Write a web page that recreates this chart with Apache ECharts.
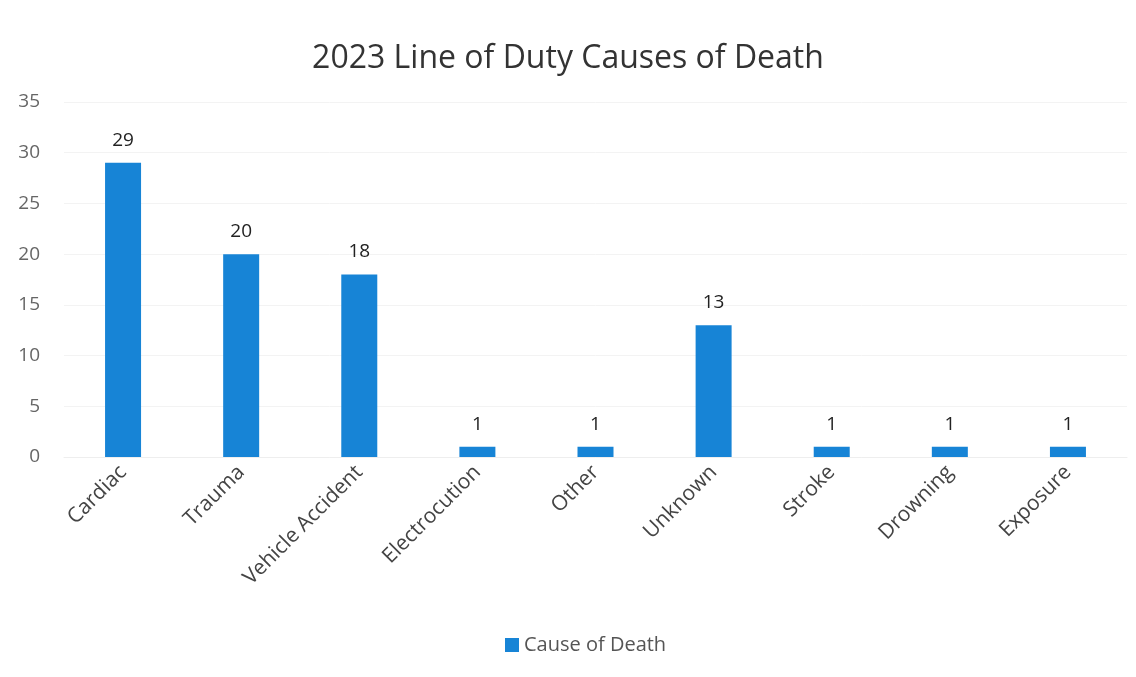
<!DOCTYPE html>
<html>
<head>
<meta charset="utf-8">
<script src="https://cdn.jsdelivr.net/npm/echarts@6/dist/echarts.min.js"></script>
<style>
  html, body { margin: 0; padding: 0; background: #fff; }
  #chart { width: 1136px; height: 677px; }
</style>
</head>
<body>
<div id="chart"></div>
<script>
const categories = ['Cardiac', 'Trauma', 'Vehicle Accident', 'Electrocution', 'Other', 'Unknown', 'Stroke', 'Drowning', 'Exposure']
const deaths = [29, 20, 18, 1, 1, 13, 1, 1, 1]

const font = '"Open Sans", "Noto Sans", sans-serif'
const chart = echarts.init(document.getElementById('chart'))
chart.setOption({
  animation: false,
  textStyle: { fontFamily: font },
  title: {
    text: '2023 Line of Duty Causes of Death',
    left: 'center',
    top: 38,
    textStyle: { fontFamily: font, fontSize: 32, fontWeight: 'normal', color: '#333' }
  },
  legend: {
    bottom: 17,
    left: 500,
    itemWidth: 14,
    itemHeight: 14,
    itemGap: 6,
    icon: 'rect',
    textStyle: { fontFamily: font, fontSize: 20, color: '#555' },
    data: ['Cause of Death']
  },
  grid: { left: 64, right: 9, top: 102, bottom: 220, containLabel: false },
  xAxis: {
    type: 'category',
    data: categories,
    axisLine: { show: true, lineStyle: { color: '#eee' } },
    axisTick: { show: false },
    axisLabel: { rotate: 45, fontSize: 21, color: '#444', margin: 12, fontFamily: font }
  },
  yAxis: {
    type: 'value',
    min: 0,
    max: 35,
    interval: 5,
    axisLine: { show: false },
    axisTick: { show: false },
    axisLabel: { fontSize: 19, color: '#666', margin: 24, fontFamily: font },
    splitLine: { lineStyle: { color: '#f3f3f3' } }
  },
  series: [{
    name: 'Cause of Death',
    type: 'bar',
    data: deaths,
    barWidth: 36,
    itemStyle: { color: '#1784d6' },
    label: { show: true, position: 'top', distance: 13, fontSize: 19, color: '#222', fontFamily: font }
  }]
})
</script>
</body>
</html>
